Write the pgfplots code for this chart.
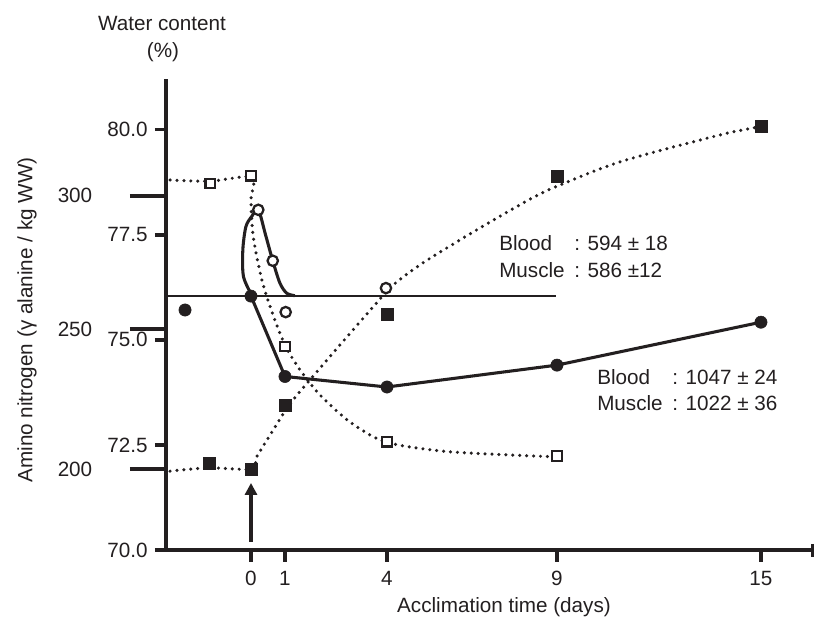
\documentclass[border=0pt]{standalone}
\usepackage{fontspec}
\setmainfont{Liberation Sans}
\usepackage{pgfplots}
\pgfplotsset{compat=1.18}
\usetikzlibrary{arrows.meta}
\definecolor{ink}{HTML}{231F20}
\begin{document}
\fontsize{15.5}{18.6}\selectfont
\begin{tikzpicture}[every node/.style={text=ink}]
\begin{axis}[name=ax, at={(0,0)}, anchor=south west,
  scale only axis, width=486pt, height=353.5pt,
  xmin=-2.5, xmax=16.56, ymin=70, ymax=81.2,
  axis x line=bottom, axis y line=left,
  axis line style={line width=3pt, draw=ink, -},
  x axis line style={-}, y axis line style={-},
  xtick pos=bottom, ytick pos=left,
  xtick={0,1,4,9,15}, xticklabels={0,1,4,9,15},
  ytick={70,72.5,75,77.5,80}, yticklabels={70.0,72.5,75.0,77.5,80.0},
  tick align=outside, major tick length=8.5pt,
  xtick style={draw=none}, ytick style={draw=none},
  tick label style={text=ink},
  xticklabel style={yshift=-2pt},
  clip=false]
% horizontal level line
\addplot[ink, line width=1.9pt] coordinates {(-2.5,76.04) (8.97,76.04)};
% open squares: dotted curve
\addplot[ink, line width=2.6pt, line cap=round, dash pattern=on 0pt off 5.2pt, smooth, tension=0.45] coordinates {
 (-2.38,78.80) (-1.19,78.77) (0.03,78.87) (0.0,78.32) (0.06,77.49) (0.32,76.42) (0.68,75.52) (1.03,74.83)
 (1.44,74.29) (2.03,73.69) (2.91,73.05) (3.97,72.57) (5.85,72.34) (8.97,72.22)};
% filled squares: dotted curve
\addplot[ink, line width=2.6pt, line cap=round, dash pattern=on 0pt off 5.2pt, smooth, tension=0.45] coordinates {
 (-2.38,71.88) (-1.235,71.96) (0.029,71.93) (0.168,72.22) (0.656,72.86) (1.235,73.57) (2.618,74.88)
 (3.588,75.78) (4.176,76.30) (5.059,76.83) (6.529,77.56) (8.0,78.25) (8.882,78.61) (10.853,79.23)
 (13.794,79.87) (14.941,80.06)};
% open circles: solid curve
\addplot[ink, line width=2.3pt, smooth, tension=0.5] coordinates {
 (0.04,76.04) (-0.22,76.50) (-0.24,77.14) (-0.15,77.69) (0.02,77.93) (0.215,78.09) (0.43,77.49)
 (0.64,76.88) (0.85,76.35) (1.05,76.11) (1.29,76.05)};
% filled circles: solid line
\addplot[ink, line width=2.3pt] coordinates {(0,76.04) (1,74.13) (4,73.88) (9,74.40) (15,75.42)};
% marks
\addplot[only marks, mark=square*, mark size=3.5pt, mark options={fill=white, draw=ink, line width=1.7pt}]
 coordinates {(-1.2,78.72) (0,78.90) (1,74.84) (4,72.58) (9,72.24)};
\addplot[only marks, mark=square*, mark size=4.6pt, mark options={fill=ink, draw=ink}]
 coordinates {(-1.23,72.07) (0,71.93) (1,73.45) (4,75.61) (9,78.88) (15,80.08)};
\addplot[only marks, mark=*, mark size=3.9pt, mark options={fill=white, draw=ink, line width=1.7pt}]
 coordinates {(0.215,78.09) (0.64,76.88) (1.02,75.66) (3.97,76.23)};
\addplot[only marks, mark=*, mark size=4.6pt, mark options={fill=ink, draw=ink}]
 coordinates {(-1.94,75.71) (0,76.04) (1,74.13) (4,73.88) (9,74.40) (15,75.42)};
% arrow at day 0
\draw[ink, line width=2.3pt, -{Triangle[length=9pt,width=9pt]}] (axis cs:0,70.2) -- (axis cs:0,71.6);
\end{axis}
\begin{scope}[x=0.75pt, y=-0.75pt, shift={(-166,-550.3)}]
 % tick marks of the time axis and water-content axis
 \foreach \px in {251,285,387,557,761} \draw[ink, line width=2.8pt] (\px,550.3) -- (\px,562);
 \draw[ink, line width=2.8pt] (812.5,544) -- (812.5,557);
 \foreach \py in {550.3,445.1,339.9,234.7,129.5} \draw[ink, line width=2.8pt] (155,\py) -- (166,\py);
 % amino nitrogen scale
 \draw[ink, line width=3pt] (130,195.7) -- (166,195.7);
 \draw[ink, line width=3pt] (130,329.3) -- (166,329.3);
 \draw[ink, line width=3pt] (130,469) -- (166,469);
 \node[anchor=center, inner sep=0pt] at (75,195.7) {300};
 \node[anchor=center, inner sep=0pt] at (75,329.3) {250};
 \node[anchor=center, inner sep=0pt] at (75,469) {200};
 % titles
 \node[anchor=base, inner sep=0pt] at (162,31) {Water content};
 \node[anchor=base, inner sep=0pt] at (163,58) {(\%)};
 \node[rotate=90, anchor=center, inner sep=0pt] at (27,320) {Amino nitrogen (γ alanine / kg WW)};
 \node[anchor=base, inner sep=0pt] at (504,613) {Acclimation time (days)};
 % annotations
 \node[anchor=base west, inner sep=0pt] at (499,250.5) {Blood};
 \node[anchor=base west, inner sep=0pt] at (574,250.5) {: 594 ± 18};
 \node[anchor=base west, inner sep=0pt] at (499,277.5) {Muscle};
 \node[anchor=base west, inner sep=0pt] at (574,277.5) {: 586 ±12};
 \node[anchor=base west, inner sep=0pt] at (597,385) {Blood};
 \node[anchor=base west, inner sep=0pt] at (672,385) {: 1047 ± 24};
 \node[anchor=base west, inner sep=0pt] at (597,410.5) {Muscle};
 \node[anchor=base west, inner sep=0pt] at (672,410.5) {: 1022 ± 36};
 \pgfresetboundingbox
 \path[use as bounding box] (0,0) rectangle (815,624);
\end{scope}
\end{tikzpicture}
\end{document}
